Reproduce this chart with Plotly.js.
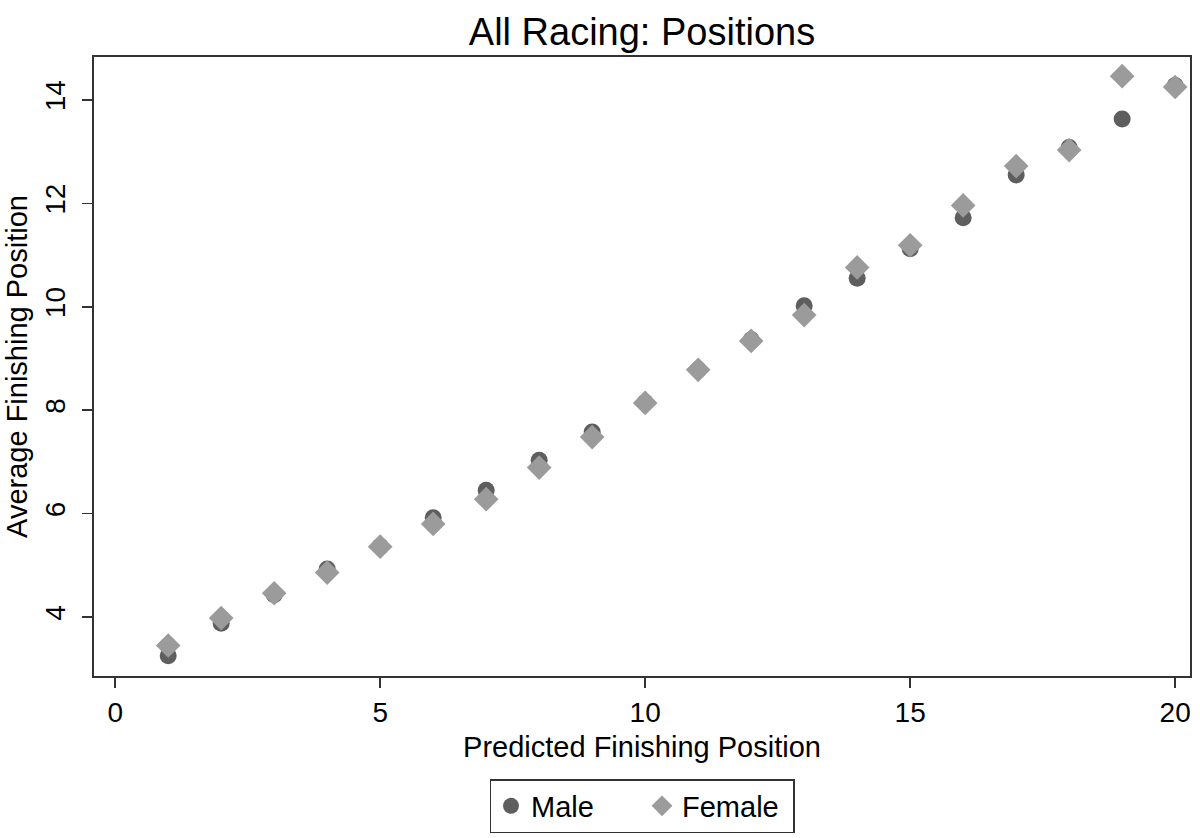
<!DOCTYPE html>
<html>
<head>
<meta charset="utf-8">
<script src="https://cdn.plot.ly/plotly-3.0.1.min.js"></script>
<style>body{margin:0;padding:0;background:#fff;} #chart{width:1200px;height:838px;}</style>
</head>
<body>
<div id="chart"></div>
<script>
const predicted = [1,2,3,4,5,6,7,8,9,10,11,12,13,14,15,16,17,18,19,20];
const maleAvg = [3.25,3.88,4.43,4.93,5.37,5.92,6.45,7.03,7.58,8.15,8.78,9.36,10.02,10.55,11.12,11.72,12.55,13.08,13.63,14.28];
const femaleAvg = [3.45,3.98,4.46,4.86,5.36,5.80,6.28,6.89,7.48,8.14,8.78,9.34,9.84,10.76,11.19,11.96,12.72,13.03,14.46,14.25];
const xTicks = [0,5,10,15,20];
const yTicks = [4,6,8,10,12,14];

const font = "'Liberation Sans', Arial, Helvetica, sans-serif";

const traces = [
  {x: predicted, y: maleAvg, type: 'scatter', mode: 'markers', name: 'Male',
   marker: {symbol: 'circle', size: 17, color: '#5e5e5e'}},
  {x: predicted, y: femaleAvg, type: 'scatter', mode: 'markers', name: 'Female',
   marker: {symbol: 'diamond', size: 19, color: '#9b9b9b'}}
];

const layout = {
  width: 1200, height: 838,
  margin: {l: 94, r: 10, t: 57, b: 162},
  paper_bgcolor: '#fff', plot_bgcolor: '#fff',
  font: {family: font, color: '#000'},
  title: {text: 'All Racing: Positions', x: 0.535, xanchor: 'center', y: 0.962, yanchor: 'middle', font: {size: 38, color: '#000'}},
  showlegend: true,
  legend: {orientation: 'h', x: 0.5, xanchor: 'center', yref: 'container', y: 0.0704, yanchor: 'top',
           bordercolor: '#333', borderwidth: 1.5, font: {size: 29, color: '#000'},
           entrywidth: 106, entrywidthmode: 'pixels'},
  xaxis: {
    automargin: false,
    range: [-0.4, 20.28], tickvals: xTicks, ticktext: xTicks.map(String),
    showgrid: false, zeroline: false, showline: true, linecolor: '#333', linewidth: 2, mirror: true,
    ticks: 'outside', ticklen: 10, tickwidth: 1.5, tickcolor: '#333',
    tickfont: {size: 28, color: '#000'},
    title: {text: 'Predicted Finishing Position', font: {size: 29, color: '#000'}, standoff: 10}
  },
  yaxis: {
    automargin: false,
    range: [2.86, 14.83], tickvals: yTicks, ticktext: yTicks.map(String),
    showgrid: false, zeroline: false, showline: true, linecolor: '#333', linewidth: 2, mirror: true,
    ticks: 'outside', ticklen: 10, tickwidth: 1.5, tickcolor: '#333', tickangle: -90,
    ticklabelstandoff: 6,
    tickfont: {size: 28, color: '#000'},
    title: {text: 'Average Finishing Position', font: {size: 29, color: '#000'}, standoff: 4}
  }
};

Plotly.newPlot('chart', traces, layout, {displayModeBar: false, staticPlot: true});
</script>
</body>
</html>
